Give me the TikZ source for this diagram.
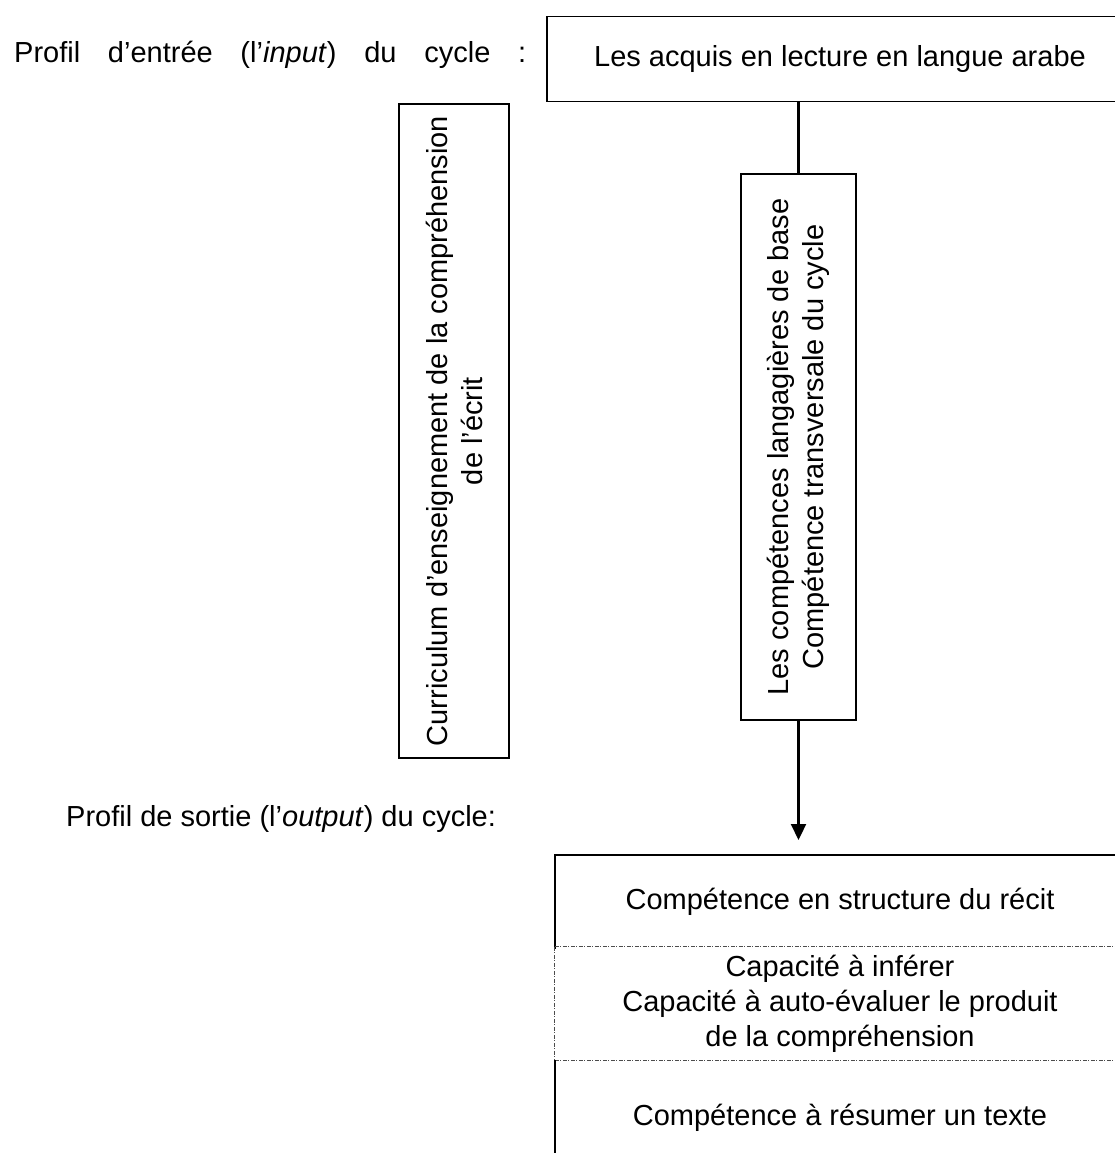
\documentclass[tikz,border=0pt]{standalone}
\usepackage{fontspec}
\setmainfont{Liberation Sans}
\usetikzlibrary{arrows.meta}

\begin{document}
\begin{tikzpicture}[x=1pt, y=-1pt,
font = \fontsize{29}{35}\selectfont,
box/.style = {draw, line width = 1.8pt, align = center, inner sep = 0pt},
vbox/.style = {box, rotate = 90},
row/.style = {minimum width = 570pt, align = center, inner sep = 0pt},
frame/.style = {line width = 1.8pt},
sep/.style = {line width = 0.8pt, black!70, dash pattern = on 4pt off 1.5pt on 1pt off 1.5pt}]

\useasboundingbox (0,0) rectangle (1115,1153);

\node[anchor = base west, inner sep = 0pt] (entree) at (14,63) {\makebox[512pt][s]{Profil d’entrée (l’\textit{input}) du cycle :}};
\node[anchor = base west, inner sep = 0pt] (sortie) at (66,826) {Profil de sortie (l’\textit{output}) du cycle:};

\node[box, minimum width = 586pt, minimum height = 85pt] (acquis) at (840,59) {Les acquis en lecture en langue arabe};
\node[vbox, minimum width = 654pt, minimum height = 110pt] (curri) at (454,431) {Curriculum d’enseignement de la compréhension\\de l’écrit};
\node[vbox, minimum width = 546pt, minimum height = 115pt] (comp) at (798.5,447) {Les compétences langagières de base\\Compétence transversale du cycle};

% Profil de sortie
\node[row, minimum height = 94pt] (rowa) at (840,902) {Compétence en structure du récit};
\node[row, minimum height = 113pt] (rowb) at (840,1003.5) {Capacité à inférer\\Capacité à auto-évaluer le produit\\de la compréhension};
\node[row, minimum height = 115pt] (rowc) at (840,1117.5) {Compétence à résumer un texte};
\coordinate (tip) at (798.5,840);

\draw[frame] (rowa.south west) -- (rowa.north west) -- (rowa.north east);
\draw[sep] (rowb.north west) -- (rowb.north east);
\draw[sep] (rowb.north west) -- (rowb.south west);
\draw[sep] (rowb.south west) -- (rowb.south east);
\draw[frame] (rowc.north west) -- (rowc.south west);

% Connect boxes
\draw[line width = 2.2pt] (acquis.south -| comp.east) -- (comp.east);
\draw[line width = 2.2pt, -{Triangle[length = 16pt, width = 15pt]}] (comp.west) -- (tip);

\end{tikzpicture}
\end{document}
